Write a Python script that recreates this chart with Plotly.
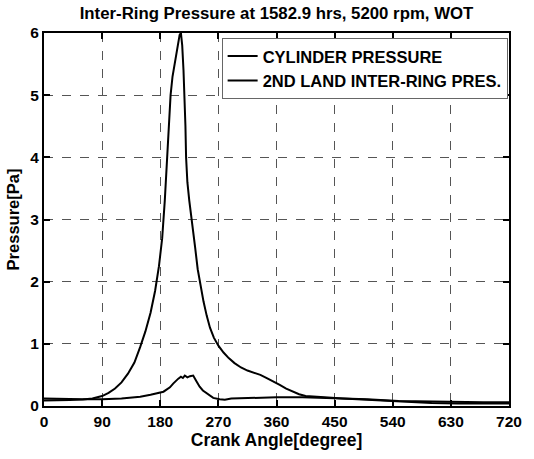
import plotly.graph_objects as go

angle_cyl = [0, 20, 40, 60, 75, 90, 100, 110, 120, 130, 140, 149, 157, 165, 172, 178, 183, 187, 190,
             193, 196, 199, 203, 207, 210, 212, 214, 216, 218, 219, 220, 222, 225, 229, 234, 238,
             242, 247, 252, 257, 263, 270, 278, 286, 295, 305, 315, 325, 335, 345, 355, 365, 375,
             385, 395, 405, 420, 440, 462, 500, 549, 600, 641, 680, 720]
cyl_pressure = [0.09, 0.09, 0.095, 0.105, 0.12, 0.16, 0.21, 0.28, 0.38, 0.52, 0.70, 0.95, 1.20, 1.50,
                1.85, 2.25, 2.70, 3.30, 3.90, 4.50, 5.00, 5.30, 5.55, 5.80, 5.97, 6.00, 5.80, 5.40,
                4.95, 4.50, 4.00, 3.60, 3.30, 3.00, 2.55, 2.20, 1.94, 1.68, 1.45, 1.26, 1.10, 0.97,
                0.86, 0.77, 0.69, 0.62, 0.57, 0.54, 0.50, 0.45, 0.40, 0.34, 0.28, 0.23, 0.19, 0.16,
                0.145, 0.135, 0.12, 0.10, 0.07, 0.05, 0.04, 0.04, 0.04]

angle_ring = [0, 30, 60, 90, 120, 149, 165, 185, 195, 200, 205, 208, 212, 215, 218, 222, 226, 231,
              236, 241, 246, 252, 262, 272, 280, 290, 320, 360, 400, 462, 500, 549, 600, 640, 680, 720]
ring_pressure = [0.12, 0.11, 0.11, 0.11, 0.12, 0.15, 0.18, 0.23, 0.30, 0.36, 0.42, 0.44, 0.47, 0.45,
                 0.49, 0.46, 0.48, 0.49, 0.40, 0.31, 0.25, 0.20, 0.13, 0.11, 0.10, 0.12, 0.13, 0.14,
                 0.14, 0.12, 0.11, 0.08, 0.07, 0.06, 0.06, 0.06]

x_ticks = [0, 90, 180, 270, 360, 450, 540, 630, 720]
y_ticks = [0, 1, 2, 3, 4, 5, 6]

FONT = "Liberation Sans, Arial, sans-serif"

fig = go.Figure()
fig.add_trace(go.Scatter(x=angle_cyl, y=cyl_pressure, mode="lines", name="CYLINDER PRESSURE",
                         line=dict(color="black", width=2)))
fig.add_trace(go.Scatter(x=angle_ring, y=ring_pressure, mode="lines", name="2ND LAND INTER-RING PRES.",
                         line=dict(color="black", width=2)))

axis_common = dict(showline=True, linecolor="black", linewidth=2, mirror="ticks",
                   ticks="inside", ticklen=6, tickwidth=2, tickcolor="black",
                   showgrid=True, gridcolor="#555555", gridwidth=1, griddash="dash",
                   zeroline=False,
                   tickfont=dict(family=FONT, size=15.5, color="black", weight="bold"))

fig.update_xaxes(range=[0, 720], tickvals=x_ticks, ticktext=["<b>%d</b>" % v for v in x_ticks],
                 title=dict(text="<b>Crank Angle[degree]</b>", standoff=5,
                            font=dict(family=FONT, size=17.5, color="black", weight="bold")),
                 **axis_common)
fig.update_yaxes(range=[0, 6], tickvals=y_ticks, ticktext=["<b>%d</b>" % v for v in y_ticks],
                 title=dict(text="<b>Pressure[Pa]</b>", standoff=7,
                            font=dict(family=FONT, size=16.5, color="black", weight="bold")),
                 **axis_common)

fig.update_layout(
    width=534, height=459,
    margin=dict(l=43, r=23, t=33, b=51),
    paper_bgcolor="white", plot_bgcolor="white",
    title=dict(text="<b>Inter-Ring Pressure at 1582.9 hrs, 5200 rpm, WOT</b>", x=0.5, xref="paper",
               y=1 - 13 / 459, yanchor="middle",
               font=dict(family=FONT, size=16.8, color="black", weight="bold")),
    legend=dict(x=0.382, y=0.987, xanchor="left", yanchor="top", bgcolor="white",
                bordercolor="#666666", borderwidth=1, tracegroupgap=0,
                font=dict(family=FONT, size=16.5, color="black", weight="bold")),
    showlegend=True,
)

fig.write_html("out.html")
